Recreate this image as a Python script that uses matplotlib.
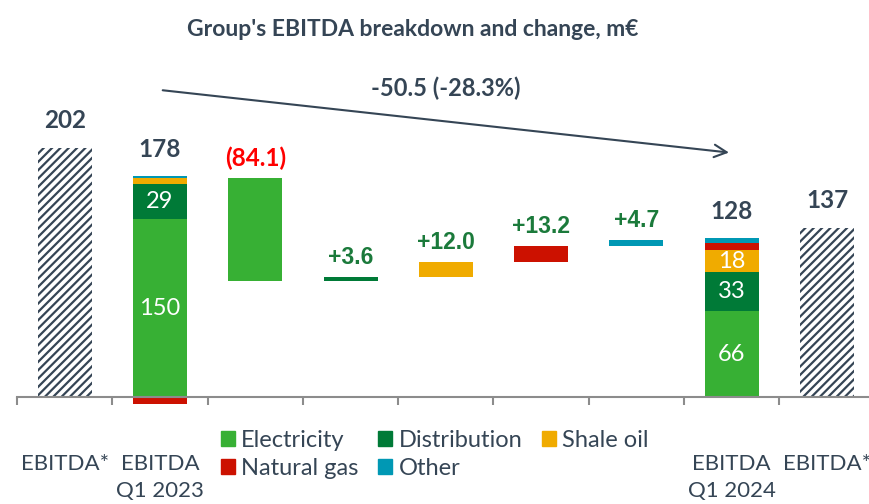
import matplotlib
matplotlib.use('Agg')
import matplotlib.pyplot as plt
from matplotlib.patches import Patch
import numpy as np

plt.rcParams['font.family'] = ['Lato', 'DejaVu Sans']
plt.rcParams['hatch.linewidth'] = 1.6

# --- data ---
segments = ['Electricity', 'Distribution', 'Shale oil', 'Natural gas', 'Other']
seg_colors = ['#37B034', '#007A37', '#F0AB00', '#CC1100', '#0098B4']

stack_2023 = [144.0, 28.5, 5.5, -6.0, 1.0]
stack_2024 = [69.5, 31.6, 18.0, 5.6, 4.0]
stack_2023_labels = ['150', '29', '', '', '']
stack_2024_labels = ['66', '33', '18', '', '']

totals = [202, 178, 128, 137]
total_pos = [0, 1, 7, 8]
hatched = [True, False, False, True]

changes = [-84.1, 3.6, 12.0, 13.2, 4.7]
change_colors = ['#37B034', '#007A37', '#F0AB00', '#CC1100', '#0098B4']
change_start = 178

tick_labels = ['EBITDA*', 'EBITDA\nQ1 2023', '', '', '', '', '', 'EBITDA\nQ1 2024', 'EBITDA*']
arrow_text = '-50.5 (-28.3%)'
title = "Group's EBITDA breakdown and change, m€"

dark = '#354555'
bar_w = 0.567

fig = plt.figure(figsize=(8.7, 5.04), dpi=100)
ax = fig.add_axes([17 / 870, 94.67 / 504, 857.7 / 870, 320.6 / 504])
ax.set_xlim(-0.5, 8.5)
ax.set_ylim(-10, 250)

# hatched EBITDA* bars
for i, p in enumerate(total_pos):
    if hatched[i]:
        ax.bar(p, totals[i], width=bar_w, color='white', edgecolor=dark,
               hatch='////', linewidth=0, zorder=2)

# stacked Q1 bars
def draw_stack(x, vals, labels):
    pos_base, neg_base = 0.0, 0.0
    for v, c, lab in zip(vals, seg_colors, labels):
        if v >= 0:
            ax.bar(x, v, bottom=pos_base, width=bar_w, color=c, linewidth=0, zorder=2)
            if lab:
                ax.text(x, pos_base + v / 2, lab, ha='center', va='center',
                        color='white', fontsize=17)
            pos_base += v
        else:
            ax.bar(x, v, bottom=neg_base, width=bar_w, color=c, linewidth=0, zorder=2)
            neg_base += v
    return pos_base

draw_stack(1, stack_2023, stack_2023_labels)
draw_stack(7, stack_2024, stack_2024_labels)

# total labels
for i, p in enumerate(total_pos):
    top = totals[i] if hatched[i] else (sum(v for v in (stack_2023 if p == 1 else stack_2024) if v > 0))
    ax.annotate(str(totals[i]), (p, top), xytext=(0, 19.5), textcoords='offset points',
                ha='center', va='center', fontsize=17.5, fontweight='bold', color=dark)

# waterfall changes
level = change_start
for k, (d, c) in enumerate(zip(changes, change_colors)):
    x = 2 + k
    ax.bar(x, d, bottom=level, width=bar_w, color=c, linewidth=0, zorder=2)
    top = max(level, level + d)
    if d < 0:
        txt, col, fam, fs = '({:.1f})'.format(-d), '#FF0000', ['Lato', 'DejaVu Sans'], 17.5
    else:
        txt, col, fam, fs = '+{:.1f}'.format(d), '#1B7A3B', ['Liberation Sans', 'DejaVu Sans'], 16.5
    ax.annotate(txt, (x, top), xytext=(0, 14), textcoords='offset points',
                ha='center', va='center', fontsize=fs, fontweight='bold',
                color=col, family=fam)
    level += d

# arrow
ax.annotate('', xy=(7.0, 198), xytext=(1.0, 249),
            arrowprops=dict(arrowstyle='->,head_length=0.9,head_width=0.45',
                            color=dark, lw=1.5), annotation_clip=False)
ax.text(4.0, 250.5, arrow_text, ha='center', va='center', fontsize=17,
        fontweight='bold', color=dark, clip_on=False)

# axes styling
for s in ['left', 'right', 'top']:
    ax.spines[s].set_visible(False)
ax.spines['bottom'].set_position(('data', 0))
ax.spines['bottom'].set_color('#8C8C8C')
ax.spines['bottom'].set_linewidth(1.5)
ax.set_yticks([])
ax.set_xticks(np.arange(9))
ax.set_xticklabels(tick_labels, fontsize=16, color=dark, linespacing=1.45)
ax.set_xticks(np.arange(-0.5, 9, 1), minor=True)
ax.tick_params(axis='x', which='major', length=0, pad=41)
ax.tick_params(axis='x', which='minor', length=6, width=1.5, color='#8C8C8C', direction='out')

# legend
order = [0, 3, 1, 4, 2]
handles = [Patch(color=seg_colors[i], label=segments[i]) for i in order]
fig.legend(handles=handles, loc='upper left', bbox_to_anchor=(209 / 870, 1 - 418 / 504),
           ncol=3, frameon=False, fontsize=17, handlelength=0.6, handleheight=0.6,
           handletextpad=0.25, columnspacing=0.85, labelspacing=0.3, borderpad=0,
           labelcolor=dark)

fig.text(413 / 870, 1 - 30 / 504, title, ha='center', va='center', fontsize=16.5,
         fontweight='bold', color=dark)

fig.savefig('out.png', dpi=100)
